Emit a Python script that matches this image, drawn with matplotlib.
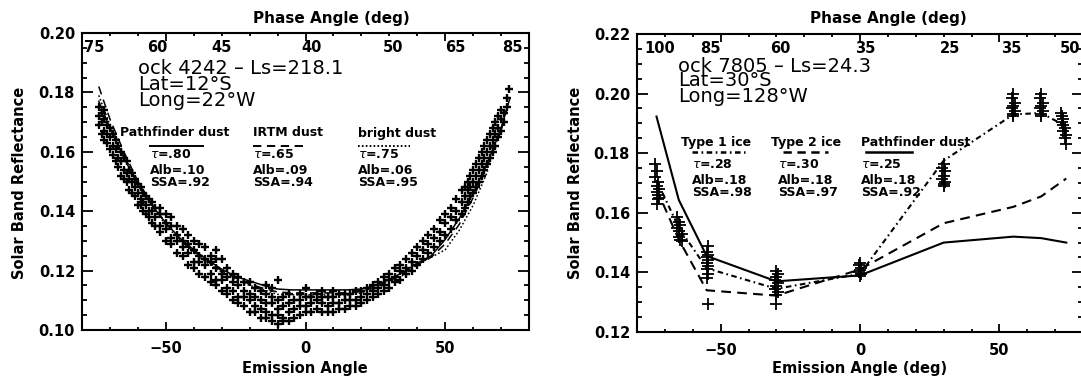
import matplotlib
matplotlib.use('Agg')
import matplotlib.pyplot as plt
from matplotlib.ticker import MultipleLocator, FormatStrFormatter
from matplotlib.lines import Line2D

W, H = 1081, 381
plt.rcParams['font.family'] = ['DejaVu Sans']
plt.rcParams['mathtext.fontset'] = 'dejavusans'
plt.rcParams['lines.scale_dashes'] = False

# ---------------- LEFT PANEL DATA (ock 4242) ----------------
left_obs_angle = [-74, -73, -72, -71, -70, -69, -68, -67, -66, -65, -64, -63, -62, -61, -60,
                  -59, -58, -57, -56, -55, -54, -52, -50, -48, -46, -44, -42, -40, -38, -36,
                  -34, -32, -30, -28, -26, -24, -22, -20, -18, -16, -14, -12, -10, -8, -6,
                  -4, -2, 0, 2, 4, 6, 8, 10, 12, 14, 16, 18, 20, 22, 24,
                  26, 28, 30, 32, 34, 36, 38, 40, 42, 44, 46, 48, 50, 52, 54,
                  56, 57, 58, 59, 60, 61, 62, 63, 64, 65, 66, 67, 68, 69, 70,
                  71, 72, 73]
left_obs_refl = [
    [0.169, 0.172, 0.175], [0.166, 0.170, 0.173], [0.164, 0.167, 0.171, 0.174],
    [0.163, 0.166, 0.169], [0.161, 0.165, 0.168], [0.159, 0.162, 0.166],
    [0.157, 0.161, 0.164], [0.155, 0.158, 0.162], [0.152, 0.157, 0.160],
    [0.151, 0.154, 0.158], [0.150, 0.153, 0.157], [0.147, 0.151, 0.154],
    [0.146, 0.150, 0.153], [0.145, 0.148, 0.151], [0.142, 0.146, 0.149],
    [0.142, 0.144, 0.148], [0.140, 0.143, 0.146], [0.139, 0.142, 0.145],
    [0.138, 0.140, 0.144], [0.136, 0.140, 0.143], [0.135, 0.138, 0.141],
    [0.133, 0.135, 0.139, 0.141], [0.130, 0.134, 0.136, 0.139],
    [0.129, 0.131, 0.135, 0.138], [0.126, 0.130, 0.132, 0.135],
    [0.125, 0.128, 0.130, 0.134], [0.122, 0.126, 0.129, 0.132],
    [0.121, 0.123, 0.127, 0.130], [0.119, 0.123, 0.125, 0.129],
    [0.118, 0.122, 0.124, 0.128], [0.116, 0.119, 0.123, 0.125],
    [0.115, 0.117, 0.121, 0.124, 0.127], [0.113, 0.117, 0.119, 0.124],
    [0.112, 0.114, 0.118, 0.121], [0.110, 0.113, 0.116, 0.119],
    [0.109, 0.111, 0.115, 0.118], [0.108, 0.111, 0.113, 0.116],
    [0.106, 0.110, 0.112, 0.116], [0.106, 0.108, 0.111, 0.114],
    [0.104, 0.107, 0.110, 0.113], [0.104, 0.106, 0.109, 0.112, 0.115],
    [0.103, 0.105, 0.109, 0.111, 0.114], [0.102, 0.105, 0.107, 0.110, 0.117],
    [0.103, 0.104, 0.108, 0.111], [0.103, 0.106, 0.109, 0.112],
    [0.104, 0.107, 0.110], [0.105, 0.108, 0.110, 0.112],
    [0.106, 0.108, 0.111, 0.114], [0.106, 0.109, 0.111], [0.107, 0.110, 0.112],
    [0.106, 0.109, 0.111, 0.113], [0.106, 0.108, 0.111],
    [0.106, 0.109, 0.111, 0.113], [0.107, 0.109, 0.112], [0.107, 0.110, 0.112],
    [0.108, 0.110, 0.112], [0.108, 0.110, 0.113], [0.109, 0.111, 0.113],
    [0.110, 0.112, 0.114], [0.111, 0.113, 0.115],
    [0.112, 0.114, 0.116], [0.113, 0.115, 0.118], [0.114, 0.117, 0.119],
    [0.116, 0.118, 0.121], [0.117, 0.120, 0.122], [0.119, 0.121, 0.124],
    [0.120, 0.123, 0.126], [0.122, 0.125, 0.128], [0.124, 0.127, 0.130],
    [0.126, 0.129, 0.132], [0.128, 0.131, 0.134], [0.130, 0.133, 0.137],
    [0.132, 0.136, 0.139], [0.134, 0.138, 0.141], [0.137, 0.140, 0.144],
    [0.139, 0.143, 0.147], [0.141, 0.145, 0.148], [0.143, 0.147, 0.150],
    [0.145, 0.148, 0.152], [0.146, 0.150, 0.154], [0.148, 0.152, 0.156],
    [0.150, 0.154, 0.158], [0.152, 0.156, 0.160], [0.154, 0.158, 0.162],
    [0.156, 0.160, 0.164], [0.158, 0.162, 0.166], [0.160, 0.164, 0.168],
    [0.162, 0.166, 0.170], [0.165, 0.168, 0.172], [0.167, 0.171, 0.174],
    [0.170, 0.173], [0.175, 0.178], [0.181],
]

left_model_angle = [-74, -70, -65, -60, -55, -50, -45, -40, -35, -30, -25, -20, -15, -10, -5,
                    0, 5, 10, 15, 20, 25, 30, 35, 40, 45, 50, 55, 60, 65, 70, 73]
left_pathfinder = [0.177, 0.168, 0.158, 0.149, 0.142, 0.136, 0.131, 0.127, 0.1235, 0.1205,
                   0.118, 0.1165, 0.115, 0.1138, 0.1135, 0.1135, 0.1135, 0.1135, 0.1135,
                   0.1138, 0.115, 0.117, 0.1195, 0.1225, 0.125, 0.1305, 0.1375, 0.146,
                   0.156, 0.168, 0.1775]
left_irtm_angle = left_model_angle[:-1] + [72]
left_irtm = [0.182, 0.171, 0.160, 0.150, 0.1425, 0.136, 0.1305, 0.1265, 0.123, 0.120,
             0.1175, 0.1155, 0.114, 0.1128, 0.1125, 0.1125, 0.1125, 0.1125, 0.1125,
             0.113, 0.1145, 0.1165, 0.119, 0.122, 0.1245, 0.129, 0.1355, 0.1445,
             0.155, 0.167, 0.174]
left_bright_angle = [-74, -70, -65, -60, -55, -50, -45, -40, -35, -30, -25, -20, -15, -10, -5,
                     0, 5, 10, 15, 20, 25, 30, 35, 40, 45, 50, 55, 60, 65, 69]
left_bright = [0.179, 0.169, 0.159, 0.149, 0.1415, 0.1355, 0.130, 0.126, 0.1225, 0.1195,
               0.117, 0.115, 0.1135, 0.112, 0.1118, 0.1118, 0.1118, 0.1118, 0.1118,
               0.1125, 0.114, 0.116, 0.1185, 0.122, 0.1245, 0.127, 0.1335, 0.142,
               0.153, 0.172]

left_phase_labels = ['75', '60', '45', '40', '50', '65', '85']
left_phase_at = [-75.5, -53, -30, 2, 31.5, 53.5, 74]

# ---------------- RIGHT PANEL DATA (ock 7805) ----------------
right_obs_emission = [
    -73.5, -73, -73.5, -72.5, -73, -72, -73, -72.5, -72, -72.5, -73,
    -65.5, -65, -64.5, -65.5, -65, -64, -65, -64.5, -64,
    -54.5, -55, -54.5, -55, -54.5, -55, -54.5, -55, -54.5, -55, -54.5,
    -30, -29.5, -30, -30.5, -29.5, -30, -30.5, -29.5, -30, -30,
    0, -0.5, 0.5, 0, -0.5, 0.5, 0,
    30, 29.5, 30.5, 30, 29.5, 30.5, 30, 30,
    55, 54.5, 55.5, 55, 54.5, 55.5, 55, 55,
    65, 64.5, 65.5, 65, 64.5, 65.5, 65, 65,
    72, 72.5, 73, 72.5, 73, 73.5, 73, 74, 73.5, 74,
]
right_obs_refl = [
    0.1765, 0.174, 0.172, 0.1705, 0.169, 0.168, 0.167, 0.166, 0.165, 0.1645, 0.163,
    0.1585, 0.157, 0.156, 0.155, 0.154, 0.153, 0.152, 0.151, 0.1505,
    0.149, 0.147, 0.146, 0.145, 0.144, 0.143, 0.142, 0.141, 0.1395, 0.138, 0.1295,
    0.1405, 0.1395, 0.1385, 0.1375, 0.1365, 0.1355, 0.1345, 0.1335, 0.1325, 0.1295,
    0.1432, 0.1425, 0.1415, 0.1408, 0.140, 0.1395, 0.1388,
    0.1765, 0.175, 0.174, 0.1725, 0.1715, 0.1705, 0.1695, 0.169,
    0.200, 0.1985, 0.197, 0.196, 0.195, 0.194, 0.193, 0.1925,
    0.200, 0.1985, 0.197, 0.196, 0.195, 0.194, 0.193, 0.1925,
    0.1935, 0.1925, 0.1915, 0.1905, 0.1895, 0.1885, 0.1875, 0.186, 0.185, 0.183,
]
right_model_angle = [-73, -65, -55, -30, 0, 30, 55, 65, 74]
right_type1_ice = [0.171, 0.155, 0.1414, 0.1345, 0.1395, 0.1775, 0.193, 0.1935, 0.189]
right_type2_ice = [0.168, 0.151, 0.134, 0.1322, 0.141, 0.1565, 0.162, 0.1655, 0.1715]
right_pathfinder = [0.1923, 0.1643, 0.1455, 0.137, 0.139, 0.150, 0.152, 0.1515, 0.150]

right_phase_labels = ['100', '85', '60', '35', '25', '35', '50']
right_phase_at = [-72, -53.5, -28.7, 1.8, 32.3, 54.4, 75.3]

# ---------------- FIGURE ----------------
fig = plt.figure(figsize=(W / 100, H / 100), dpi=100)


def fx(px):
    return px / W


def fy(py):
    return 1 - py / H


def style_axes(ax, ylim, ymajor):
    ax.set_xlim(-80, 80)
    ax.set_ylim(*ylim)
    ax.xaxis.set_major_locator(MultipleLocator(50))
    ax.xaxis.set_minor_locator(MultipleLocator(10))
    ax.yaxis.set_major_locator(MultipleLocator(ymajor))
    ax.yaxis.set_minor_locator(MultipleLocator(0.005))
    ax.yaxis.set_major_formatter(FormatStrFormatter('%.2f'))
    ax.tick_params(which='both', direction='in', top=True, right=True, width=1.3,
                   labelsize=10.5)
    ax.tick_params(axis='x', which='major', length=5.8, pad=8)
    ax.tick_params(axis='x', which='minor', length=2.5)
    ax.tick_params(axis='y', which='major', length=8, pad=5)
    ax.tick_params(axis='y', which='minor', length=3.6)
    for lab in ax.get_xticklabels() + ax.get_yticklabels():
        lab.set_fontweight('bold')
    for sp in ax.spines.values():
        sp.set_linewidth(1.5)


# ----- left axes -----
ax1 = fig.add_axes([fx(82), fy(330), 447 / W, 297 / H])
style_axes(ax1, (0.10, 0.20), 0.02)
lx = [a for a, ys in zip(left_obs_angle, left_obs_refl) for _ in ys]
ly = [v for ys in left_obs_refl for v in ys]
ax1.plot(lx, ly, linestyle='none', marker='+', markersize=6, markeredgewidth=1.7, color='black')
ax1.plot(left_model_angle, left_pathfinder, color='black', lw=1.1)
ax1.plot(left_irtm_angle, left_irtm, color='black', lw=1.1, dashes=(6, 4))
ax1.plot(left_bright_angle, left_bright, color='black', lw=1.1, dashes=(1.2, 1.6))
for lab, pos in zip(left_phase_labels, left_phase_at):
    ax1.text(pos, 0.9495, lab, transform=ax1.get_xaxis_transform(), ha='center', va='center',
             fontsize=10.5, fontweight='bold')

# ----- right axes -----
ax2 = fig.add_axes([fx(637), fy(332), 446 / W, 298 / H])
style_axes(ax2, (0.12, 0.22), 0.02)
ax2.plot(right_obs_emission, right_obs_refl, linestyle='none', marker='+', markersize=9,
         markeredgewidth=1.3, color='black')
ax2.plot(right_model_angle, right_pathfinder, color='black', lw=1.5)
ax2.plot(right_model_angle, right_type2_ice, color='black', lw=1.5, dashes=(7, 4.5))
ax2.plot(right_model_angle, right_type1_ice, color='black', lw=1.5, dashes=(4, 2.5, 1.2, 2.5))
for lab, pos in zip(right_phase_labels, right_phase_at):
    ax2.text(pos, 0.953, lab, transform=ax2.get_xaxis_transform(), ha='center', va='center',
             fontsize=10.5, fontweight='bold', clip_on=False)

# ----- axis titles -----
fig.text(fx(331), fy(19), 'Phase Angle (deg)', ha='center', va='center', fontsize=11,
         fontweight='bold')
fig.text(fx(888), fy(19), 'Phase Angle (deg)', ha='center', va='center', fontsize=11,
         fontweight='bold')
fig.text(fx(305), fy(369), 'Emission Angle', ha='center', va='center', fontsize=10.5,
         fontweight='bold')
fig.text(fx(860), fy(369), 'Emission Angle (deg)', ha='center', va='center', fontsize=10.5,
         fontweight='bold')
fig.text(fx(20), fy(183), 'Solar Band Reflectance', ha='center', va='center', rotation=90,
         fontsize=10.5, fontweight='bold')
fig.text(fx(575), fy(183), 'Solar Band Reflectance', ha='center', va='center', rotation=90,
         fontsize=10.5, fontweight='bold')

# ----- header annotations -----
for txt, py in zip(['ock 4242 \u2013 Ls=218.1', 'Lat=12\u00b0S', 'Long=22\u00b0W'], [68, 85, 101]):
    fig.text(fx(138), fy(py), txt, ha='left', va='center', fontsize=14)
for txt, py in zip(['ock 7805 \u2013 Ls=24.3', 'Lat=30\u00b0S', 'Long=128\u00b0W'], [66, 81, 96]):
    fig.text(fx(678), fy(py), txt, ha='left', va='center', fontsize=14)

# ----- in-plot legends -----
def legend_block(title_x, col_x, title, params, line_kw, line_span, y_title, y_line, y_rows):
    fig.text(fx(title_x), fy(y_title), title, ha='left', va='center', fontsize=9,
             fontweight='bold')
    fig.add_artist(Line2D([fx(line_span[0]), fx(line_span[1])], [fy(y_line), fy(y_line)],
                          color='black', **line_kw))
    for txt, py in zip(params, y_rows):
        fig.text(fx(col_x), fy(py), txt, ha='left', va='center', fontsize=9,
                 fontweight='bold')


legend_block(120, 150, 'Pathfinder dust', [r'$\tau$=.80', 'Alb=.10', 'SSA=.92'],
             dict(lw=1.4), (150, 203), 133, 146, [155, 170, 183])
legend_block(253, 253, 'IRTM dust', [r'$\tau$=.65', 'Alb=.09', 'SSA=.94'],
             dict(lw=1.4, dashes=(6, 4)), (253, 303), 133, 146, [155, 170, 183])
legend_block(358, 358, 'bright dust', [r'$\tau$=.75', 'Alb=.06', 'SSA=.95'],
             dict(lw=1.4, dashes=(1.2, 1.6)), (358, 410), 133, 146, [155, 170, 183])

legend_block(681, 692, 'Type 1 ice', [r'$\tau$=.28', 'Alb=.18', 'SSA=.98'],
             dict(lw=1.8, dashes=(4, 2.5, 1.2, 2.5)), (692, 745), 142, 152, [165, 180, 193])
legend_block(771, 778, 'Type 2 ice', [r'$\tau$=.30', 'Alb=.18', 'SSA=.97'],
             dict(lw=1.8, dashes=(6, 4)), (783, 828), 142, 152, [165, 180, 193])
legend_block(861, 861, 'Pathfinder dust', [r'$\tau$=.25', 'Alb=.18', 'SSA=.92'],
             dict(lw=1.8), (866, 912), 142, 152, [165, 180, 193])

fig.savefig('out.png', dpi=100)
